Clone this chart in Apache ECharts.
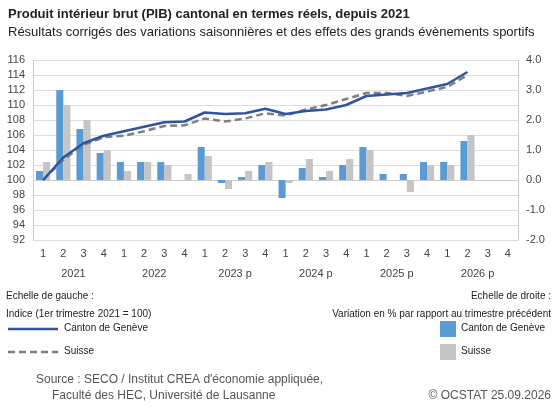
<!DOCTYPE html><html><head><meta charset="utf-8">
<script src="https://cdn.jsdelivr.net/npm/echarts@6/dist/echarts.min.js"></script>
<style>html,body{margin:0;padding:0;background:#fff}#c{width:557px;height:410px}</style></head><body><div id="c"></div>
<script>
const quarters=['1','2','3','4','1','2','3','4','1','2','3','4','1','2','3','4','1','2','3','4','1','2','3','4'];
const years=['2021','2022','2023 p','2024 p','2025 p','2026 p'];
const geIndex=[100,103.0,104.9,105.9,106.5,107.1,107.7,107.8,109.0,108.8,108.9,109.5,108.8,109.2,109.4,110.0,111.2,111.4,111.6,112.2,112.8,114.4,null,null];
const chIndex=[100,102.7,104.7,105.7,105.9,106.5,107.2,107.3,108.2,107.8,108.2,108.9,108.6,109.4,110.0,110.8,111.6,111.6,111.2,111.8,112.4,114.0,null,null];
const geVar=[0.3,3.0,1.7,0.9,0.6,0.6,0.6,0,1.1,-0.1,0.1,0.5,-0.6,0.4,0.1,0.5,1.1,0.2,0.2,0.6,0.6,1.3,null,null];
const chVar=[0.6,2.5,2.0,1.0,0.3,0.6,0.5,0.2,0.8,-0.3,0.3,0.6,-0.1,0.7,0.3,0.7,1.0,0,-0.4,0.5,0.5,1.5,null,null];
const F='Liberation Sans, Arial, sans-serif';
const c=echarts.init(document.getElementById('c'));
const T=(x,y,t,o)=>Object.assign({type:'text',left:x,top:y,style:Object.assign({text:t,font:'10px '+F,fill:'#222'},o||{})});
c.setOption({
animation:false,
textStyle:{fontFamily:F},
grid:{left:33,right:39,top:60,bottom:170},
xAxis:[{type:'category',data:quarters,axisLine:{lineStyle:{color:'#ccc'}},axisTick:{length:22,lineStyle:{color:'#ddd'}},axisLabel:{color:'#444',fontSize:11,margin:8}},
{type:'category',data:years,position:'bottom',offset:22,axisLine:{show:false},axisTick:{length:20,lineStyle:{color:'#ddd'}},axisLabel:{color:'#444',fontSize:11,margin:6}}],
yAxis:[{type:'value',min:92,max:116,interval:2,axisLabel:{color:'#444',fontSize:11},splitLine:{lineStyle:{color:'#ddd'}},axisLine:{show:true,lineStyle:{color:'#ccc'}}},
{type:'value',min:-2,max:4,interval:1,axisLabel:{color:'#444',fontSize:11,formatter:v=>v.toFixed(1)},splitLine:{show:false},axisLine:{show:true,lineStyle:{color:'#ccc'}}}],
series:[
{type:'bar',yAxisIndex:1,data:geVar,itemStyle:{color:'#5b9bd5'},barGap:'0%',barCategoryGap:'30%'},
{type:'bar',yAxisIndex:1,data:chVar,itemStyle:{color:'#c5c5c5'}},
{type:'line',yAxisIndex:0,data:chIndex,symbol:'none',lineStyle:{color:'#7f7f7f',width:2.5,type:[7,4]},z:3},
{type:'line',yAxisIndex:0,data:geIndex,symbol:'none',lineStyle:{color:'#2f55a0',width:2.5},z:4}
],
graphic:[
T(8,8,'Produit intérieur brut (PIB) cantonal en termes réels, depuis 2021',{font:'bold 13px '+F}),
T(8,26,'Résultats corrigés des variations saisonnières et des effets des grands évènements sportifs',{font:'13px '+F}),
T(6,291,'Echelle de gauche :'),
T(6,309,'Indice (1er trimestre 2021 = 100)'),
{type:'line',shape:{x1:8,y1:329,x2:58,y2:329},style:{stroke:'#2f55a0',lineWidth:2.5}},
T(64,323,'Canton de Genève'),
{type:'line',shape:{x1:8,y1:352,x2:58,y2:352},style:{stroke:'#7f7f7f',lineWidth:2.5,lineDash:[7,4]}},
T(64,346,'Suisse'),
{type:'text',right:6,top:291,style:{text:'Echelle de droite :',font:'10px '+F,fill:'#222'}},
{type:'text',right:6,top:309,style:{text:'Variation en % par rapport au trimestre précédent',font:'10px '+F,fill:'#222'}},
{type:'rect',shape:{x:440,y:321,width:16,height:16},style:{fill:'#5b9bd5'}},
T(461,323,'Canton de Genève'),
{type:'rect',shape:{x:440,y:344,width:16,height:16},style:{fill:'#c5c5c5'}},
T(461,346,'Suisse'),
T(36,374,'Source : SECO / Institut CREA d\'économie appliquée,',{font:'12px '+F,fill:'#555'}),
T(52,390,'Faculté des HEC, Université de Lausanne',{font:'12px '+F,fill:'#555'}),
{type:'text',right:6,top:390,style:{text:'© OCSTAT 25.09.2026',font:'12px '+F,fill:'#555'}}
]});
</script></body></html>
